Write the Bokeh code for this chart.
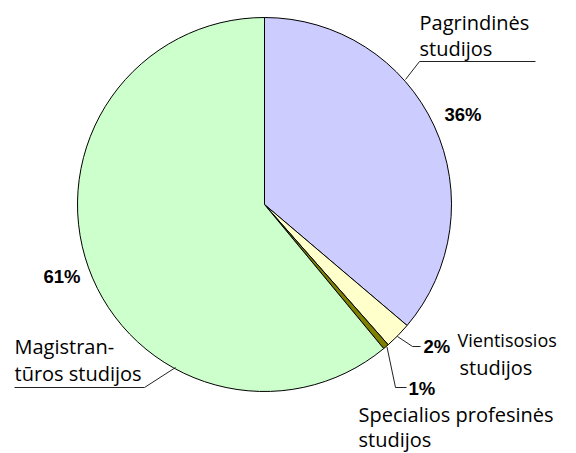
import math
from bokeh.plotting import figure
from bokeh.models import Range1d, ColumnDataSource
from bokeh.core.properties import value
from bokeh.embed import file_html
from bokeh.resources import INLINE

# ---- data ----
categories = ["Pagrindinės studijos", "Vientisosios studijos",
              "Specialios profesinės studijos", "Magistrantūros studijos"]
shares = [36.2, 2.3, 0.5, 61.0]
pct_labels = ["36%", "2%", "1%", "61%"]
colors = ["#CCCCFF", "#FFFFCC", "#808000", "#CCFFCC"]
name_lines = [["Pagrindinės", "studijos"],
              ["Vientisosios", "studijos"],
              ["Specialios profesinės", "studijos"],
              ["Magistran-", "tūros studijos"]]

# ---- layout (picture px) ----
W, H = 576, 453
OX, OY = 0, 0
TDY = -7  # text vertical correction
def X(sx): return sx - OX
def Y(sy): return H + OY - sy

CX, CY, R = 264, 204, 187

p = figure(width=W, height=H, x_range=Range1d(0, W), y_range=Range1d(0, H),
           output_backend="svg", toolbar_location=None, min_border=0)
p.axis.visible = False
p.grid.visible = False
p.outline_line_color = None
p.background_fill_color = "white"
p.border_fill_color = "white"

total = sum(shares)
starts, ends = [], []
cum = 0.0
for s in shares:
    starts.append(math.pi / 2 - 2 * math.pi * cum / total)
    cum += s
    ends.append(math.pi / 2 - 2 * math.pi * cum / total)

src = ColumnDataSource(dict(start=starts, end=ends, color=colors, cat=categories))
p.wedge(x=X(CX), y=Y(CY), radius=R, start_angle="start", end_angle="end",
        direction="clock", fill_color="color", line_color="black",
        line_width=1, source=src)

# leader lines
leaders = [
    [(535, 61), (419, 61), (405, 79)],
    [(397, 336), (412, 346), (420, 346)],
    [(386.5, 346.5), (395, 387), (406, 387)],
    [(14, 387), (144, 387), (175, 367)],
]
p.multi_line(xs=[[X(a) for a, b in L] for L in leaders],
             ys=[[Y(b) for a, b in L] for L in leaders],
             line_color="#222222", line_width=1)

# percentage labels (left x, baseline y)
pct_pos = [(444, 121), (423, 353), (408, 395), (43, 283)]
p.text(x=[X(a) for a, b in pct_pos], y=[Y(b + TDY) for a, b in pct_pos], text=pct_labels,
       text_font=value("Liberation Sans"), text_font_style="bold",
       text_font_size="18.5px", text_color="black",
       text_align="left", text_baseline="alphabetic")

# category labels (left x, baseline of each line, font size)
name_pos = [[(419, 29, 20), (419, 55, 20)],
            [(457, 346, 18), (459, 374, 20)],
            [(358, 421, 20), (358, 446, 20)],
            [(14, 353, 20), (14, 380, 20)]]
xs, ys, ts, fs = [], [], [], []
for lines, pos in zip(name_lines, name_pos):
    for t, (a, b, f) in zip(lines, pos):
        xs.append(X(a)); ys.append(Y(b + TDY)); ts.append(t); fs.append(f"{f}px")
nsrc = ColumnDataSource(dict(x=xs, y=ys, t=ts, fs=fs))
p.text(x="x", y="y", text="t", text_font=value("Open Sans"),
       text_font_size="fs", text_color="black",
       text_align="left", text_baseline="alphabetic", source=nsrc)

open("out.html", "w").write(file_html(p, INLINE))
